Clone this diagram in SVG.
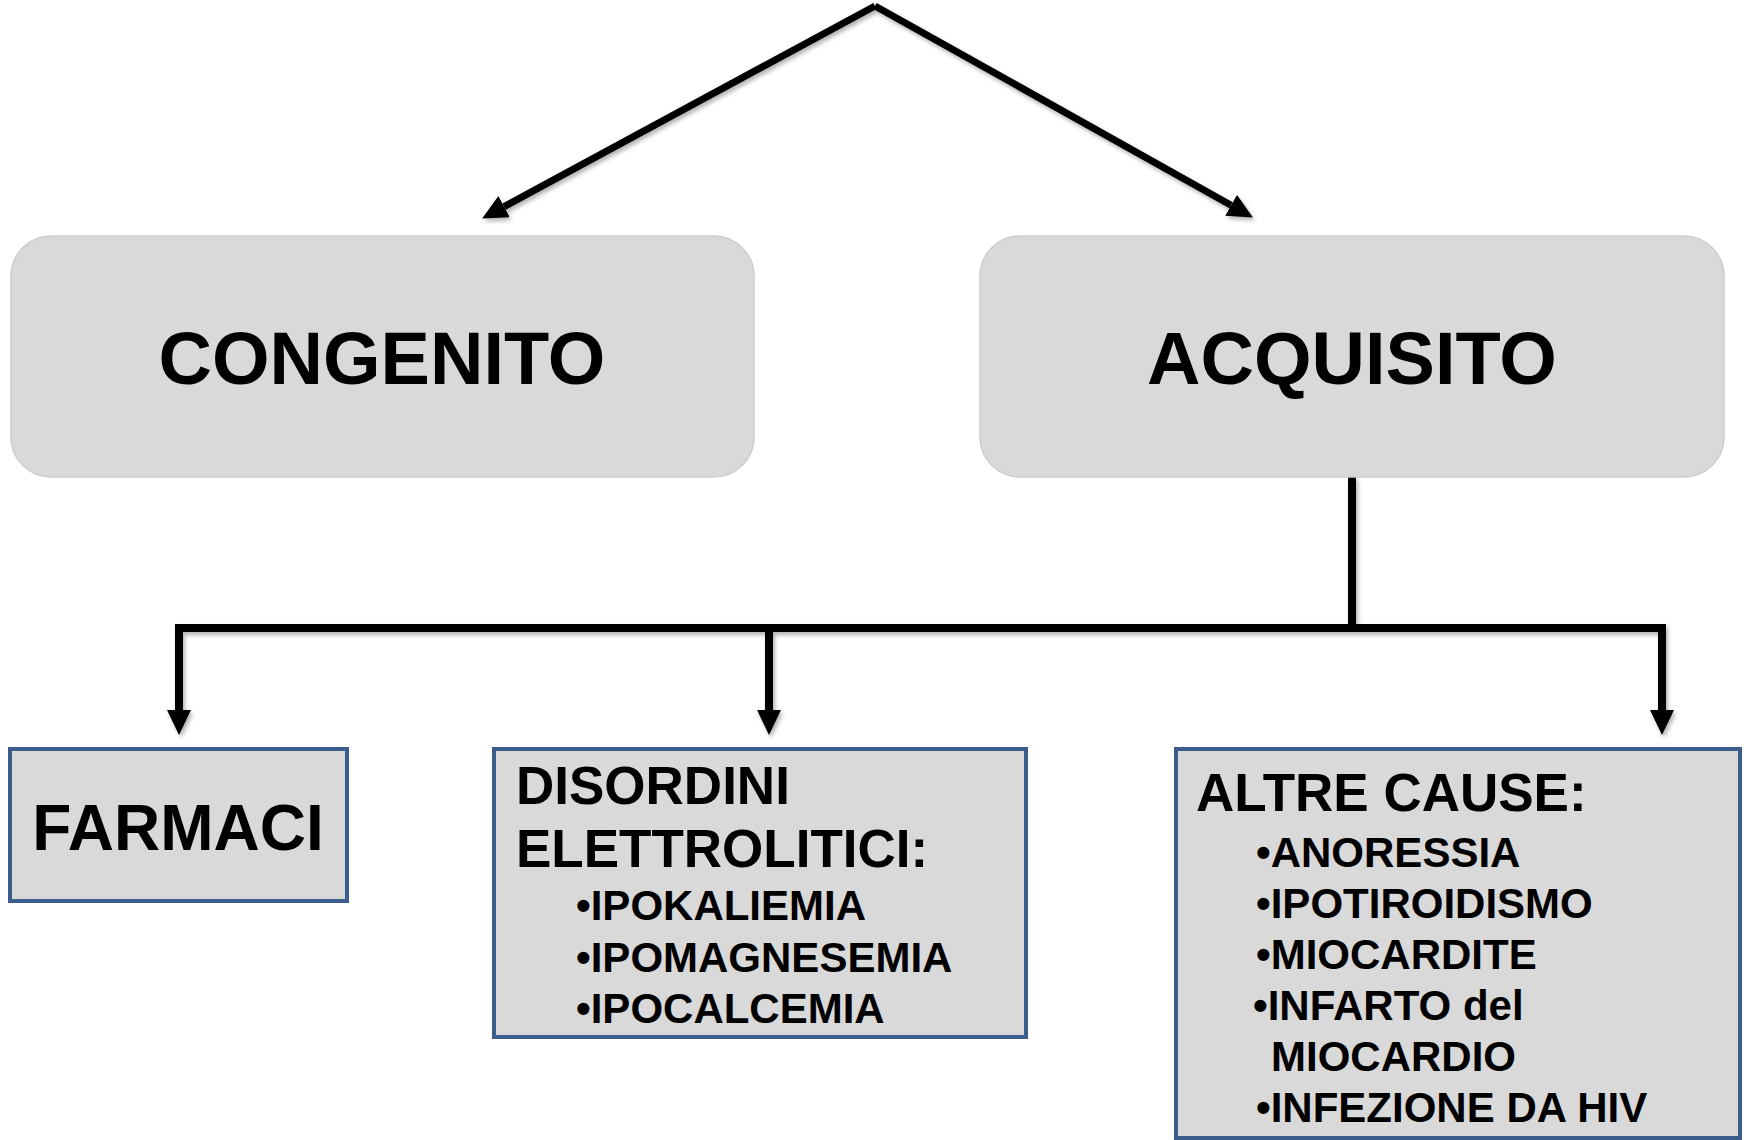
<svg xmlns="http://www.w3.org/2000/svg" width="1747" height="1140" viewBox="0 0 1747 1140">
<style>
.t{font-family:"Liberation Sans",Arial,sans-serif;font-weight:bold;fill:#000}
.big{font-size:74px}
.mid{font-size:53px}
.sm{font-size:42px}
.rbox{fill:#d9d9d9;stroke:#cdcdcd;stroke-width:1.5}
.bbox{fill:#d9d9d9;stroke:#3a5d8c;stroke-width:4}
.ln{fill:none;stroke:#000;stroke-linejoin:miter}
</style>
<defs>
<marker id="ah" markerUnits="userSpaceOnUse" markerWidth="26" markerHeight="26" refX="0" refY="12" orient="auto" viewBox="0 0 26 26">
<path d="M0,0 L25,12 L0,24 z" fill="#000"/>
</marker>
<filter id="sh" x="-5%" y="-5%" width="110%" height="115%">
<feDropShadow dx="2" dy="3" stdDeviation="2" flood-color="#000" flood-opacity="0.3"/>
</filter>
<linearGradient id="rg" x1="0" y1="0" x2="0" y2="1">
<stop offset="0" stop-color="#dcdcdc"/>
<stop offset="0.5" stop-color="#d8d8d8"/>
<stop offset="1" stop-color="#d6d6d6"/>
</linearGradient>
</defs>
<g id="connectors" filter="url(#sh)">
<path class="ln" stroke-width="7" d="M875,6 L1231.1,205.3" marker-end="url(#ah)"/>
<path class="ln" stroke-width="7" d="M875,6 L504.1,206.6" marker-end="url(#ah)"/>
<path class="ln" stroke-width="8" d="M1352,477 V628"/>
<path class="ln" stroke-width="8" d="M179,710 V628 H1662 V710" marker-end="url(#ah)"/>
<path class="ln" stroke-width="8" d="M179,628 V710" marker-end="url(#ah)"/>
<path class="ln" stroke-width="8" d="M769,628 V710" marker-end="url(#ah)"/>
</g>
<g id="congenito">
<rect class="rbox" x="11" y="236" width="743" height="241" rx="40" ry="40" fill="url(#rg)"/>
<text class="t big" x="382" y="384" text-anchor="middle">CONGENITO</text>
</g>
<g id="acquisito">
<rect class="rbox" x="980" y="236" width="744" height="241" rx="40" ry="40" fill="url(#rg)"/>
<text class="t big" x="1352" y="384" text-anchor="middle">ACQUISITO</text>
</g>
<g id="farmaci">
<rect class="bbox" x="10" y="749" width="337" height="152"/>
<text class="t" style="font-size:64px" x="178" y="850" text-anchor="middle">FARMACI</text>
</g>
<g id="disordini">
<rect class="bbox" x="494" y="749" width="532" height="288"/>
<text class="t mid" x="516" y="804">DISORDINI</text>
<text class="t mid" x="516" y="867">ELETTROLITICI:</text>
<text class="t sm" x="576" y="920">•IPOKALIEMIA</text>
<text class="t sm" x="576" y="972">•IPOMAGNESEMIA</text>
<text class="t sm" x="576" y="1023">•IPOCALCEMIA</text>
</g>
<g id="altre">
<rect class="bbox" x="1176" y="749" width="564" height="389"/>
<text class="t mid" x="1196" y="811">ALTRE CAUSE:</text>
<text class="t sm" x="1256" y="867">•ANORESSIA</text>
<text class="t sm" x="1256" y="918">•IPOTIROIDISMO</text>
<text class="t sm" x="1256" y="969">•MIOCARDITE</text>
<text class="t sm" x="1253" y="1020">•INFARTO del</text>
<text class="t sm" x="1271" y="1071">MIOCARDIO</text>
<text class="t sm" x="1256" y="1122">•INFEZIONE DA HIV</text>
</g>
</svg>
